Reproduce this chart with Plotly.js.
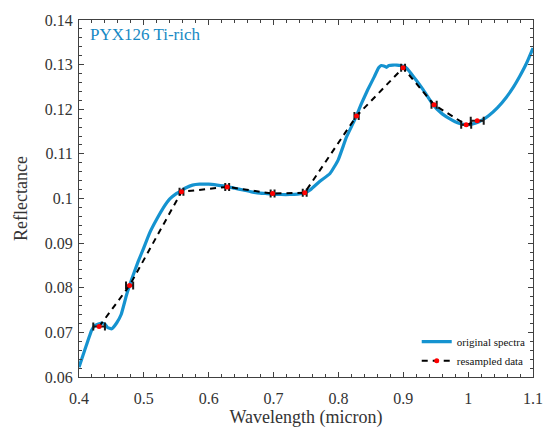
<!DOCTYPE html>
<html>
<head>
<meta charset="utf-8">
<script src="https://cdn.plot.ly/plotly-3.0.1.min.js"></script>
<style>html,body{margin:0;padding:0;background:#fff;}#chart{width:551px;height:433px;}</style>
</head>
<body>
<div id="chart"></div>
<script>
// Original spectrum (wavelength in micron, reflectance)
var specX = [0.400,0.409,0.4195,0.425,0.435,0.440,0.444,0.4505,0.458,0.465,0.4735,0.481,0.491,0.500,0.509,0.520,0.530,0.540,0.550,0.556,0.565,0.575,0.586,0.600,0.613,0.628,0.640,0.653,0.666,0.679,0.690,0.699,0.712,0.725,0.737,0.748,0.757,0.771,0.787,0.7995,0.8125,0.825,0.8356,0.845,0.855,0.862,0.866,0.870,0.874,0.878,0.884,0.890,0.896,0.901,0.906,0.912,0.920,0.930,0.945,0.958,0.970,0.980,0.987,0.993,0.998,1.004,1.012,1.022,1.032,1.045,1.059,1.070,1.080,1.090,1.100];
var specY = [0.0622,0.0661,0.0705,0.0716,0.0721,0.0718,0.0711,0.0708,0.0721,0.0740,0.0785,0.0818,0.0858,0.0890,0.0923,0.0954,0.0979,0.0999,0.1011,0.1016,0.1024,0.1030,0.1032,0.1032,0.1030,0.1027,0.1023,0.1019,0.1015,0.1012,0.1011,0.1010,0.1009,0.1009,0.1010,0.1013,0.1020,0.1038,0.1056,0.1086,0.1138,0.1176,0.1213,0.1243,0.1272,0.1293,0.1298,0.1297,0.1294,0.1298,0.1299,0.1299,0.1298,0.1296,0.1291,0.1280,0.1265,0.1245,0.1212,0.1192,0.1180,0.1172,0.1168,0.1166,0.1165,0.1166,0.1169,0.1176,0.1186,0.1203,0.1227,0.1250,0.1275,0.1303,0.1337];

// Resampled data with horizontal error (half band width)
var resX = [0.431,0.478,0.558,0.6285,0.6985,0.748,0.828,0.8997,0.9475,0.997,1.014];
var resY = [0.0713,0.0805,0.1015,0.1026,0.1011,0.1013,0.1185,0.1293,0.1210,0.1165,0.1174];
var resErr = [0.009,0.0055,0.003,0.003,0.003,0.003,0.0033,0.003,0.004,0.0077,0.0100];

var xTicks = [0.4,0.5,0.6,0.7,0.8,0.9,1,1.1];
var xTickText = ['0.4','0.5','0.6','0.7','0.8','0.9','1','1.1'];
var yTicks = [0.06,0.07,0.08,0.09,0.1,0.11,0.12,0.13,0.14];
var yTickText = ['0.06','0.07','0.08','0.09','0.1','0.11','0.12','0.13','0.14'];

var serif = '"Liberation Serif", "Times New Roman", serif';
var axisCol = '#404040';

var traces = [
  {
    x: specX, y: specY, type: 'scatter', mode: 'lines',
    name: 'original spectra',
    line: {color: '#1593d0', width: 3.2, shape: 'spline', smoothing: 0.4}
  },
  {
    x: resX, y: resY, type: 'scatter', mode: 'lines+markers',
    name: 'resampled data',
    line: {color: '#000000', width: 2, dash: '6px,5px'},
    marker: {color: '#ff0000', size: 5, symbol: 'circle'},
    error_x: {type: 'data', array: resErr, visible: true, color: '#1a1a1a', thickness: 2, width: 4}
  }
];

var layout = {
  width: 551, height: 433,
  margin: {l: 79, r: 18, t: 20, b: 56},
  paper_bgcolor: '#ffffff', plot_bgcolor: '#ffffff',
  font: {family: serif, color: '#333333', size: 16},
  showlegend: true,
  legend: {
    x: 0.995, y: 0.005, xanchor: 'right', yanchor: 'bottom',
    bgcolor: 'rgba(255,255,255,0)', borderwidth: 0,
    font: {family: serif, size: 11, color: '#111111'},
    tracegroupgap: 0, itemwidth: 30
  },
  xaxis: {
    range: [0.4, 1.1], tickvals: xTicks, ticktext: xTickText,
    ticks: 'inside', ticklen: 5, tickcolor: axisCol,
    showline: true, linecolor: axisCol, linewidth: 1, mirror: 'allticks',
    showgrid: false, zeroline: false, ticklabelstandoff: 7,
    minor: {ticks: 'inside', dtick: 0.02, ticklen: 3, tickcolor: axisCol, showgrid: false},
    tickfont: {family: serif, size: 16, color: '#333333'},
    title: {text: 'Wavelength (micron)', font: {family: serif, size: 18, color: '#333333'}, standoff: 4}
  },
  yaxis: {
    range: [0.06, 0.14], tickvals: yTicks, ticktext: yTickText,
    ticks: 'inside', ticklen: 5, tickcolor: axisCol,
    showline: true, linecolor: axisCol, linewidth: 1, mirror: 'allticks',
    showgrid: false, zeroline: false, ticklabelstandoff: 2,
    minor: {ticks: 'inside', dtick: 0.002, ticklen: 3, tickcolor: axisCol, showgrid: false},
    tickfont: {family: serif, size: 16, color: '#333333'},
    title: {text: 'Reflectance', font: {family: serif, size: 18, color: '#333333'}, standoff: 12}
  },
  annotations: [
    {
      text: 'PYX126 Ti-rich', xref: 'paper', yref: 'paper',
      x: 0.02, y: 0.96, xanchor: 'left', yanchor: 'middle', showarrow: false,
      font: {family: serif, size: 17, color: '#1689c4'}
    }
  ]
};

Plotly.newPlot('chart', traces, layout, {displayModeBar: false, staticPlot: true});
</script>
</body>
</html>
